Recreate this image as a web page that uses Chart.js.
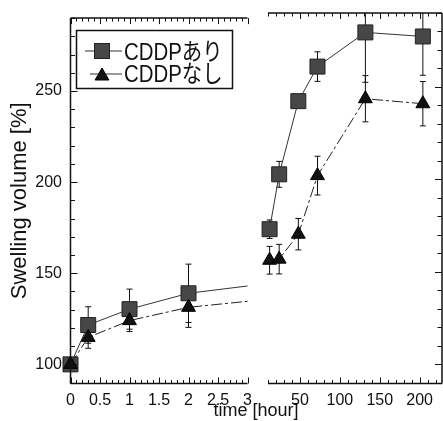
<!DOCTYPE html>
<html>
<head>
<meta charset="utf-8">
<script src="https://cdn.jsdelivr.net/npm/chart.js@4"></script>
<style>
  html, body { margin: 0; padding: 0; background: #fff; }
  #wrap { position: relative; width: 443px; height: 421px; }
  #wrap canvas { position: absolute; left: 0; top: 0; }
</style>
</head>
<body>
<div id="wrap">
  <canvas id="early" width="443" height="421"></canvas>
  <canvas id="late" width="443" height="421"></canvas>
</div>
<script>
const FONT = '"Liberation Sans", "Noto Sans CJK JP", Arial, sans-serif';

// first 3 hours
const earlyHours = [0, 0.3, 1, 2, 3];
const earlyWith = [100, 121.6, 130.3, 139, 143];
const earlyWithSd = [0, 10, 11, 16, 0];
const earlyWithout = [100, 114.8, 124, 131.3, 134.6];
const earlyWithoutSd = [0, 6, 6, 11, 0];

// 12 hours onward
const lateHours = [12, 24, 48, 72, 132, 204];
const lateWith = [173, 202.7, 242.3, 261, 279.5, 277.3];
const lateWithSd = [5, 7, 3, 8, 27, 21];
const lateWithout = [156.2, 156.8, 170.3, 202, 243.6, 240.9];
const lateWithoutSd = [7.5, 8, 8.5, 10.5, 12.5, 12];

const seriesNames = ['CDDPあり', 'CDDPなし'];
const yTicks = [100, 150, 200, 250];
const earlyTicks = [0, 0.5, 1, 1.5, 2, 2.5, 3];
const lateTicks = [50, 100, 150, 200];

const Y_MIN = 89.5, Y_MAX = 290;
const SQ_R = 10.6, TRI_R = 8;
const SQ_FILL = '#474747', TRI_FILL = '#111';

Chart.defaults.font.family = FONT;
Chart.defaults.color = '#111';

function pts(xs, ys) {
  return xs.map((x, i) => ({ x: x, y: ys[i] }));
}

function withSet(xs, ys, sd, radius) {
  return {
    label: seriesNames[0], data: pts(xs, ys), sd: sd, showLine: true,
    borderColor: '#333', borderWidth: 1,
    pointStyle: 'rect', pointRadius: radius,
    pointBackgroundColor: SQ_FILL, pointBorderColor: '#222', pointBorderWidth: 1,
    order: 2, clip: false
  };
}

function withoutSet(xs, ys, sd, radius) {
  return {
    label: seriesNames[1], data: pts(xs, ys), sd: sd, showLine: true,
    borderColor: '#222', borderWidth: 1, borderDash: [11, 3, 3, 3],
    pointStyle: 'triangle', pointRadius: radius,
    pointBackgroundColor: TRI_FILL, pointBorderColor: '#000', pointBorderWidth: 1,
    order: 1, clip: false
  };
}

// minor/major tick positions for the frame
function frameTicks(min, max, step, major) {
  const out = [];
  for (let k = Math.ceil(min / step - 1e-9); k * step <= max + 1e-9; k++) {
    const v = +(k * step).toFixed(6);
    out.push({ v: v, major: Math.abs(v / major - Math.round(v / major)) < 1e-6 });
  }
  return out;
}

// box lines with inward ticks; one vertical side per panel
const frame = {
  id: 'frame',
  afterDraw(chart, args, o) {
    const { ctx, chartArea: a, scales: { x, y } } = chart;
    const ex = o.side === 'left' ? a.left : a.right;
    const dir = o.side === 'left' ? 1 : -1;
    ctx.save();
    ctx.strokeStyle = '#111';
    ctx.lineWidth = 1.5;
    ctx.beginPath();
    ctx.moveTo(a.left, a.top); ctx.lineTo(a.right, a.top);
    ctx.moveTo(a.left, a.bottom); ctx.lineTo(a.right, a.bottom);
    ctx.moveTo(ex, a.top); ctx.lineTo(ex, a.bottom);
    ctx.stroke();
    ctx.lineWidth = 1;
    ctx.beginPath();
    frameTicks(x.min, x.max, o.xStep, o.xMajor).forEach(t => {
      const px = Math.round(x.getPixelForValue(t.v)) + 0.5;
      const len = t.major ? 6 : 3.5;
      ctx.moveTo(px, a.bottom); ctx.lineTo(px, a.bottom - len);
      ctx.moveTo(px, a.top); ctx.lineTo(px, a.top + len);
    });
    frameTicks(y.min, y.max, 10, 50).forEach(t => {
      const py = Math.round(y.getPixelForValue(t.v)) + 0.5;
      const len = t.major ? 7 : 4.5;
      ctx.moveTo(ex, py); ctx.lineTo(ex + dir * len, py);
    });
    ctx.stroke();
    ctx.restore();
  }
};

// ± sd whiskers, drawn under the lines and markers
const errorBars = {
  id: 'errorBars',
  beforeDatasetsDraw(chart) {
    const { ctx, chartArea: a, scales: { x, y } } = chart;
    ctx.save();
    ctx.beginPath();
    ctx.rect(a.left - 10, a.top, a.right - a.left + 20, a.bottom - a.top);
    ctx.clip();
    ctx.strokeStyle = '#111';
    ctx.lineWidth = 1;
    chart.data.datasets.forEach(ds => {
      ds.data.forEach((p, i) => {
        const e = ds.sd[i];
        if (!e) return;
        const px = x.getPixelForValue(p.x);
        const hi = y.getPixelForValue(p.y + e);
        const lo = y.getPixelForValue(p.y - e);
        ctx.beginPath();
        ctx.moveTo(px, hi); ctx.lineTo(px, lo);
        ctx.moveTo(px - 3, hi); ctx.lineTo(px + 3, hi);
        ctx.moveTo(px - 3, lo); ctx.lineTo(px + 3, lo);
        ctx.stroke();
      });
    });
    ctx.restore();
  }
};

function drawSquare(ctx, cx, cy) {
  const h = SQ_R * Math.SQRT1_2;
  ctx.fillStyle = SQ_FILL; ctx.strokeStyle = '#222'; ctx.lineWidth = 1;
  ctx.fillRect(cx - h, cy - h, 2 * h, 2 * h);
  ctx.strokeRect(cx - h, cy - h, 2 * h, 2 * h);
}

function drawTriangle(ctx, cx, cy) {
  const w = TRI_R * Math.sin(2 * Math.PI / 3);
  ctx.fillStyle = TRI_FILL; ctx.strokeStyle = '#000'; ctx.lineWidth = 1;
  ctx.beginPath();
  ctx.moveTo(cx, cy - TRI_R);
  ctx.lineTo(cx + w, cy + TRI_R / 2);
  ctx.lineTo(cx - w, cy + TRI_R / 2);
  ctx.closePath();
  ctx.fill(); ctx.stroke();
}

function condensedText(ctx, text, x, y) {
  ctx.save();
  ctx.translate(x, y);
  ctx.scale(0.85, 1);
  ctx.fillText(text, 0, 0);
  ctx.restore();
}

// framed legend inside the early panel + shared x axis caption
const legendBox = {
  id: 'legendBox',
  afterDraw(chart) {
    const ctx = chart.ctx;
    ctx.save();
    ctx.fillStyle = '#fff';
    ctx.fillRect(76.5, 30.5, 156, 58);
    ctx.strokeStyle = '#111';
    ctx.lineWidth = 1.5;
    ctx.strokeRect(76.5, 30.5, 156, 58);

    ctx.strokeStyle = '#333';
    ctx.lineWidth = 1;
    ctx.beginPath();
    ctx.moveTo(85, 51); ctx.lineTo(122, 51);
    ctx.moveTo(90, 74); ctx.lineTo(122, 74);
    ctx.stroke();
    drawSquare(ctx, 102, 51);
    drawTriangle(ctx, 102, 76);

    ctx.fillStyle = '#111';
    ctx.textBaseline = 'alphabetic';
    ctx.font = '24px ' + FONT;
    condensedText(ctx, seriesNames[0], 124, 60);
    condensedText(ctx, seriesNames[1], 124, 82);

    ctx.font = '18px ' + FONT;
    ctx.textAlign = 'center';
    ctx.textBaseline = 'middle';
    ctx.fillText('time [hour]', 256, 411);
    ctx.restore();
  }
};

function yScale(show) {
  const s = {
    type: 'linear', min: Y_MIN, max: Y_MAX, display: show,
    afterBuildTicks: sc => { sc.ticks = yTicks.map(v => ({ value: v })); },
    grid: { display: false, drawTicks: false },
    border: { display: false },
    ticks: { font: { size: 16 }, padding: 8.5, color: '#111' },
    title: {
      display: true, text: 'Swelling volume [%]', color: '#111',
      font: { size: 22 }, padding: { top: 7, bottom: 0 }
    }
  };
  if (show) s.afterFit = sc => { sc.width = 70.5; };
  return s;
}

function xScale(min, max, ticks) {
  return {
    type: 'linear', min: min, max: max,
    afterBuildTicks: s => { s.ticks = ticks.map(v => ({ value: v })); },
    afterFit: s => {
      s.height = 37.5;
      s.paddingLeft = 0;
      s.paddingRight = 0;
    },
    grid: { display: false, drawTicks: false },
    border: { display: false },
    ticks: {
      font: { size: 16 }, padding: 7, color: '#111',
      maxRotation: 0, autoSkip: false, callback: v => String(v)
    }
  };
}

const earlyRadius = ctx => ctx.dataIndex < earlyHours.length - 1 ? SQ_R : 0;
const earlyTriRadius = ctx => ctx.dataIndex < earlyHours.length - 1 ? TRI_R : 0;

new Chart(document.getElementById('early'), {
  type: 'scatter',
  data: {
    datasets: [
      withSet(earlyHours, earlyWith, earlyWithSd, earlyRadius),
      withoutSet(earlyHours, earlyWithout, earlyWithoutSd, earlyTriRadius)
    ]
  },
  options: {
    responsive: false,
    animation: false,
    events: [],
    layout: { autoPadding: false, padding: { left: 0, right: 195.5, top: 13, bottom: 0 } },
    scales: { x: xScale(0, 3, earlyTicks), y: yScale(true) },
    plugins: {
      legend: { display: false },
      tooltip: { enabled: false },
      frame: { side: 'left', xStep: 0.1, xMajor: 0.5 }
    }
  },
  plugins: [errorBars, frame, legendBox]
});

new Chart(document.getElementById('late'), {
  type: 'scatter',
  data: {
    datasets: [
      withSet(lateHours, lateWith, lateWithSd, SQ_R),
      withoutSet(lateHours, lateWithout, lateWithoutSd, TRI_R)
    ]
  },
  options: {
    responsive: false,
    animation: false,
    events: [],
    layout: { autoPadding: false, padding: { left: 268, right: 1, top: 13, bottom: 0 } },
    scales: { x: xScale(10, 228, lateTicks), y: yScale(false) },
    plugins: {
      legend: { display: false },
      tooltip: { enabled: false },
      frame: { side: 'right', xStep: 10, xMajor: 50 }
    }
  },
  plugins: [errorBars, frame]
});
</script>
</body>
</html>
